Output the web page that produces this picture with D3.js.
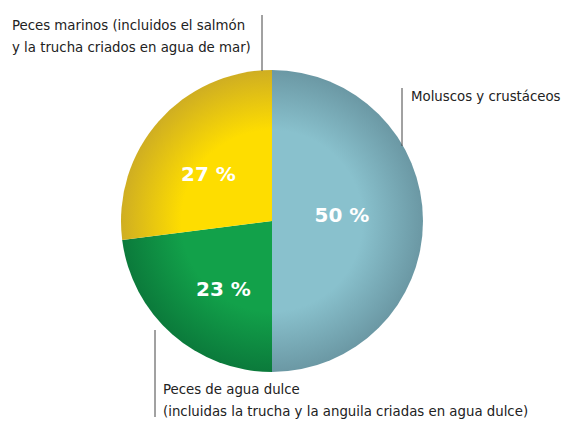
<!DOCTYPE html>
<html>
<head>
<meta charset="utf-8">
<script src="https://cdn.jsdelivr.net/npm/d3@7"></script>
<style>
  body { margin: 0; background: #fff; }
  .lbl { font-family: 'Liberation Sans Narrow', 'DejaVu Sans Condensed', sans-serif; font-size: 14.8px; fill: #222; }
  .pct { font-family: 'DejaVu Sans', sans-serif; font-weight: bold; font-size: 20px; fill: #fff; }
</style>
</head>
<body>
<script>
var width = 562;
var height = 421;

// data
var categories = ['Moluscos y crustáceos', 'Peces de agua dulce', 'Peces marinos'];
var values = [50, 23, 27];
var pctLabels = ['50 %', '23 %', '27 %'];
var innerColors = ['#89c1cd', '#12a14a', '#fedd00'];
var outerColors = ['#6b98a4', '#0b7a3b', '#cfae22'];

var cx = 272, cy = 221, radius = 151;

var svg = d3.select('body')
            .append('svg')
            .attr('width', width)
            .attr('height', height);

// gradients live in the user space of the translated group, so centre at 0,0
var defs = svg.append('defs');
categories.forEach(function (c, i) {
    var g = defs.append('radialGradient')
                .attr('id', 'grad' + i)
                .attr('gradientUnits', 'userSpaceOnUse')
                .attr('cx', 0).attr('cy', 0).attr('r', radius);
    g.append('stop').attr('offset', '0').attr('stop-color', innerColors[i]);
    g.append('stop').attr('offset', '0.6').attr('stop-color', innerColors[i]);
    g.append('stop').attr('offset', '1').attr('stop-color', outerColors[i]);
});

var pie = d3.pie().sort(null).value(function (d) { return d; });
var arcs = pie(values);
var arc = d3.arc().innerRadius(0).outerRadius(radius);
var labelArc = d3.arc().innerRadius(78).outerRadius(78);

var g = svg.append('g').attr('transform', 'translate(' + cx + ',' + cy + ')');

g.selectAll('path')
 .data(arcs)
 .enter()
 .append('path')
 .attr('d', arc)
 .attr('fill', function (d, i) { return 'url(#grad' + i + ')'; });

var pctOffsets = [[-8, -6], [3, 9], [-5, 5]];
g.selectAll('.pct')
 .data(arcs)
 .enter()
 .append('text')
 .attr('class', 'pct')
 .attr('text-anchor', 'middle')
 .attr('x', function (d, i) { return labelArc.centroid(d)[0] + pctOffsets[i][0]; })
 .attr('y', function (d, i) { return labelArc.centroid(d)[1] + pctOffsets[i][1]; })
 .attr('dy', '0.35em')
 .text(function (d, i) { return pctLabels[i]; });

// leader lines
var leaders = [[402, 88, 402, 146], [155, 330, 155, 417], [262, 15, 262, 71]];
svg.selectAll('.leader')
   .data(leaders)
   .enter()
   .append('line')
   .attr('x1', function (d) { return d[0]; })
   .attr('y1', function (d) { return d[1]; })
   .attr('x2', function (d) { return d[2]; })
   .attr('y2', function (d) { return d[3]; })
   .attr('stroke', '#444')
   .attr('stroke-width', 1);

// labels
var labelLines = [
    { x: 411, y: 101, lines: ['Moluscos y crustáceos'] },
    { x: 163, y: 394, lines: ['Peces de agua dulce', '(incluidas la trucha y la anguila criadas en agua dulce)'] },
    { x: 12, y: 30, lines: ['Peces marinos (incluidos el salmón', 'y la trucha criados en agua de mar)'] }
];
labelLines.forEach(function (l) {
    var t = svg.append('text').attr('class', 'lbl').attr('x', l.x).attr('y', l.y);
    l.lines.forEach(function (s, j) {
        t.append('tspan').attr('x', l.x).attr('dy', j === 0 ? 0 : 22).text(s);
    });
});
</script>
</body>
</html>
